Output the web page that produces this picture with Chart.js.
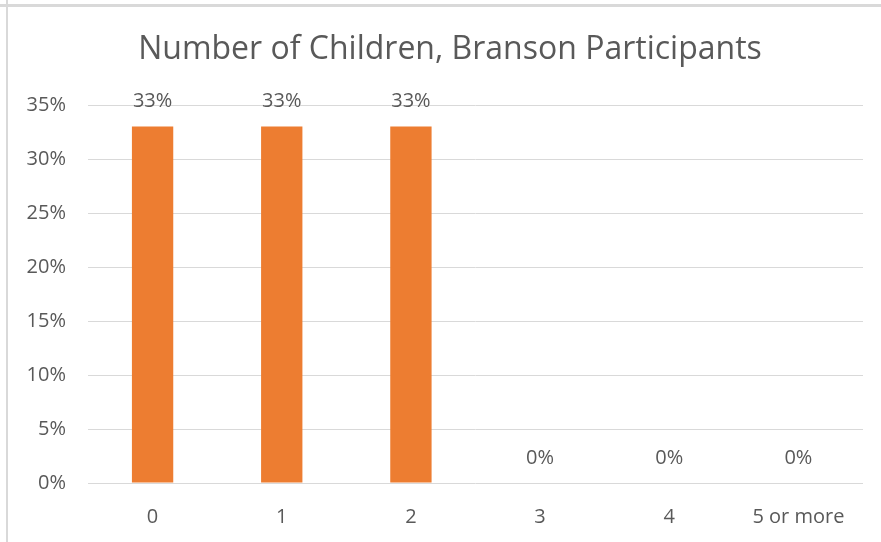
<!DOCTYPE html>
<html>
<head>
<meta charset="utf-8">
<script src="https://cdn.jsdelivr.net/npm/chart.js@4"></script>
<style>
  body { margin: 0; background: #fff; }
  #wrap { position: relative; width: 881px; height: 542px; }
  #topLine { position: absolute; left: 0; top: 4px; width: 881px; height: 3px; background: #d9d9d9; }
  #leftLine { position: absolute; left: 6px; top: 0; width: 2px; height: 542px; background: #d9d9d9; }
</style>
</head>
<body>
<div id="wrap">
  <canvas id="childrenChart" width="881" height="542"></canvas>
  <div id="topLine"></div>
  <div id="leftLine"></div>
</div>
<script>
// Data
const categories = ["0", "1", "2", "3", "4", "5 or more"];
const shares = [33, 33, 33, 0, 0, 0];
const yTicks = [0, 5, 10, 15, 20, 25, 30, 35];

const textGray = "#595959";

// simple value labels above the bars
const valueLabels = {
  id: "valueLabels",
  afterLayout(chart) {
    // title sits centred over the whole frame, not the canvas minus padding
    chart.titleBlock.left = 37;
    chart.titleBlock.right = 863;
  },
  afterDatasetsDraw(chart) {
    const ctx = chart.ctx;
    const meta = chart.getDatasetMeta(0);
    ctx.save();
    ctx.font = "20px 'Open Sans'";
    ctx.fillStyle = textGray;
    ctx.textAlign = "center";
    ctx.textBaseline = "middle";
    meta.data.forEach((bar, i) => {
      ctx.fillText(shares[i] + "%", bar.x, bar.y - 25);
    });
    ctx.restore();
  }
};

const ctx = document.getElementById("childrenChart").getContext("2d");
const childrenChart = new Chart(ctx, {
  type: "bar",
  data: {
    labels: categories,
    datasets: [
      {
        label: "Share",
        data: shares,
        backgroundColor: "#ED7D31",
        categoryPercentage: 1,
        barPercentage: 0.32,
      },
    ],
  },
  options: {
    responsive: false,
    animation: false,
    layout: { padding: { left: 0, right: 18, top: 0, bottom: 0 } },
    plugins: {
      legend: { display: false },
      tooltip: { enabled: false },
      title: {
        display: true,
        text: "Number of Children, Branson Participants",
        color: textGray,
        font: { family: "'Open Sans'", size: 32, weight: "normal", lineHeight: 1.2 },
        padding: { top: 31, bottom: 35.6 },
      },
    },
    scales: {
      x: {
        grid: { display: false },
        border: { display: false },
        ticks: {
          color: textGray,
          font: { family: "'Open Sans'", size: 20 },
          padding: 14,
          maxRotation: 0,
        },
        afterFit(scale) { scale.height = 59; },
      },
      y: {
        min: 0,
        max: 35,
        border: { display: false },
        grid: { color: "#d9d9d9", lineWidth: 1, drawTicks: false },
        afterBuildTicks(scale) {
          scale.ticks = yTicks.map(v => ({ value: v }));
        },
        ticks: {
          color: textGray,
          font: { family: "'Open Sans'", size: 20 },
          padding: 22,
          callback: v => v + "%",
        },
        afterFit(scale) { scale.width = 88; },
      },
    },
  },
  plugins: [valueLabels],
});
</script>
</body>
</html>
